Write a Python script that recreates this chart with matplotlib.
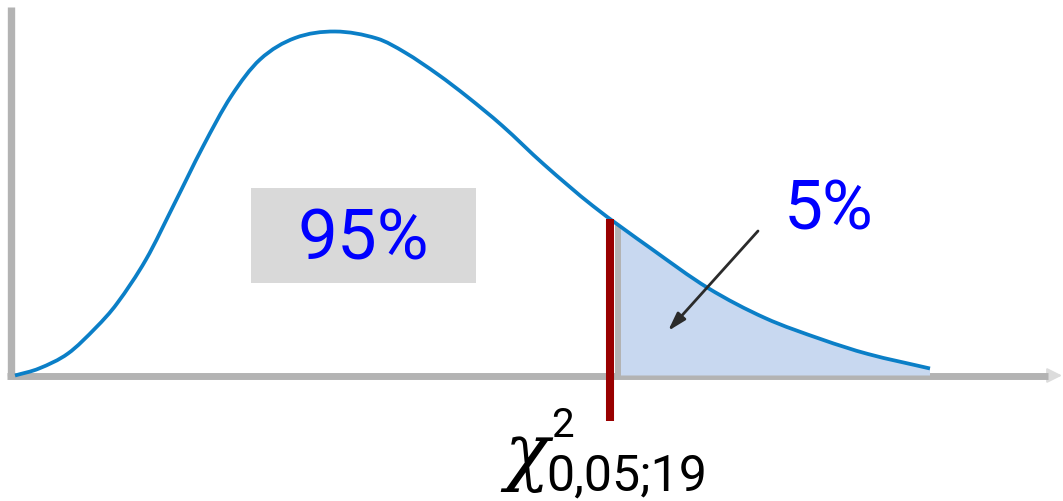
import numpy as np
import matplotlib
matplotlib.use("Agg")
import matplotlib.pyplot as plt
from matplotlib.patches import Rectangle, PathPatch
from matplotlib.path import Path
from matplotlib import transforms

# Chi-square density (19 degrees of freedom, schematic shape)
curve_x = [0, 1.2, 2.65, 4.05, 5.1, 6.55, 7.95, 9.4, 10.8, 12.25,
           14.0, 16.0, 18.1, 19.5, 21.15, 22.6, 24.35, 26.45, 28.9, 31.8,
           34.65, 37.5, 40.35, 42.65, 45.75]
curve_y = [0, 0.0014, 0.0044, 0.0096, 0.0144, 0.0232, 0.0342, 0.0458, 0.0558, 0.0632,
           0.0675, 0.0688, 0.0674, 0.0646, 0.0602, 0.0558, 0.0500, 0.0422, 0.0339, 0.0254,
           0.0175, 0.0115, 0.0072, 0.0043, 0.0014]
crit = 30.14           # upper 5% point
label_inside = "95%"
label_tail = "5%"
crit_symbol = "χ"
crit_sup = "2"
crit_sub = "0,05;19"

W, H = 1063, 502
fig = plt.figure(figsize=(W / 100, H / 100), dpi=100)
ax = fig.add_axes([0, 0, 1, 1])
ax.set_axis_off()

# pixel layout of the drawing
x0_px, base_px = 15.0, 376.5      # where the curve starts on the axis
x_per_px = 1 / 20.0
y_per_px = 1 / 5000.0
ax.set_xlim(-x0_px * x_per_px, (W - x0_px) * x_per_px)
ax.set_ylim(-(H - base_px) * y_per_px, base_px * y_per_px)


def P(xp, yp):
    """pixel position -> data coordinates"""
    return (xp - x0_px) * x_per_px, (base_px - yp) * y_per_px


grey = "#b3b3b3"

# axes drawn as plain grey strokes
xl, ytop = P(11, 8)
ax.plot([xl, xl], [0, ytop], color=grey, lw=5.3, solid_capstyle="butt", zorder=2)
xa, _ = P(7, 0)
xb, _ = P(1048, 0)
ax.plot([xa, xb], [0, 0], color=grey, lw=5.0, solid_capstyle="butt", zorder=2)
xh, _ = P(1062, 0)
ax.annotate("", xy=(xh, 0), xytext=(xb - 0.4, 0),
            arrowprops=dict(arrowstyle="-|>,head_length=0.9,head_width=0.45",
                            color="#dcdcdc", lw=1.5, shrinkA=0, shrinkB=0),
            zorder=1)

# smooth cubic Bezier segments through the density points
cx = np.asarray(curve_x, dtype=float)
cy = np.asarray(curve_y, dtype=float)
n = len(cx)
slope = np.empty(n)
slope[0] = (cy[1] - cy[0]) / (cx[1] - cx[0])
slope[-1] = (cy[-1] - cy[-2]) / (cx[-1] - cx[-2])
slope[1:-1] = (cy[2:] - cy[:-2]) / (cx[2:] - cx[:-2])


def segment(i):
    dx = cx[i + 1] - cx[i]
    return np.array([[cx[i], cy[i]],
                     [cx[i] + dx / 3, cy[i] + slope[i] * dx / 3],
                     [cx[i + 1] - dx / 3, cy[i + 1] - slope[i + 1] * dx / 3],
                     [cx[i + 1], cy[i + 1]]])


def split(x):
    """de Casteljau split of the segment holding x; returns its index and pieces"""
    i = int(np.searchsorted(cx, x)) - 1
    s = segment(i)
    t = (x - cx[i]) / (cx[i + 1] - cx[i])
    a = s[:-1] + t * (s[1:] - s[:-1])
    b = a[:-1] + t * (a[1:] - a[:-1])
    c = b[0] + t * (b[1] - b[0])
    return i, s, a, b, c


verts = [(cx[0], cy[0])]
codes = [Path.MOVETO]
for i in range(n - 1):
    s = segment(i)
    verts += [tuple(s[1]), tuple(s[2]), tuple(s[3])]
    codes += [Path.CURVE4] * 3
curve_path = Path(verts, codes)

# shaded upper tail
k, s, a, b, c = split(crit)
tail_verts = [(crit, 0.0), tuple(c), tuple(b[1]), tuple(a[2]), tuple(s[3])]
tail_codes = [Path.MOVETO, Path.LINETO, Path.CURVE4, Path.CURVE4, Path.CURVE4]
for i in range(k + 1, n - 1):
    sg = segment(i)
    tail_verts += [tuple(sg[1]), tuple(sg[2]), tuple(sg[3])]
    tail_codes += [Path.CURVE4] * 3
tail_verts += [(cx[-1], 0.0), (crit, 0.0)]
tail_codes += [Path.LINETO, Path.CLOSEPOLY]
ax.add_patch(PathPatch(Path(tail_verts, tail_codes), facecolor="#c8d8f0",
                       edgecolor="none", zorder=3))
y_crit = c[1]
ax.plot([crit, crit], [0, y_crit], color=grey, lw=4.3,
        solid_capstyle="butt", zorder=3)

ax.add_patch(PathPatch(curve_path, facecolor="none", edgecolor="#0b7fc7",
                       lw=2.7, zorder=5, capstyle="butt"))

# critical value marker, set just left of the tail edge, up to the curve
offset_px = 8
y_mark = split(crit - offset_px * x_per_px)[4][1]
shift = transforms.offset_copy(ax.transData, fig=fig, x=-offset_px, y=0,
                               units="dots")
_, y_low = P(0, 422)
ax.plot([crit, crit], [y_low, y_mark], color="#990000", lw=5.8,
        solid_capstyle="butt", transform=shift, zorder=6, clip_on=False)

# "95%" in a grey box
bx0, by0 = P(251, 284)
bx1, by1 = P(476, 189)
ax.add_patch(Rectangle((bx0, by0), bx1 - bx0, by1 - by0, facecolor="#d9d9d9",
                       edgecolor="none", zorder=4))
tx, ty = P(363.5, 240)
ax.text(tx, ty, label_inside, color="#0000ff", fontsize=51, family="Roboto",
        ha="center", va="center", zorder=6)

# "5%" and its arrow into the tail
tx, ty = P(829, 210)
ax.text(tx, ty, label_tail, color="#0000ff", fontsize=50, family="Roboto",
        ha="center", va="center", zorder=6)
ax.annotate("", xy=P(668, 332), xytext=P(758, 232),
            arrowprops=dict(arrowstyle="-|>,head_length=1.1,head_width=0.33",
                            color="#2b2b2b", lw=2.0, shrinkA=0, shrinkB=0),
            zorder=7)

# critical value label
lx, ly = P(527, 476)
ax.text(lx, ly, crit_symbol, fontsize=53, family="DejaVu Serif", style="italic",
        color="black", ha="center", va="baseline", zorder=6)
sx, sy = P(562, 437)
ax.text(sx, sy, crit_sup, fontsize=29, family="Roboto", color="black",
        ha="center", va="baseline", zorder=6)
ux, uy = P(546, 490)
ax.text(ux, uy, crit_sub, fontsize=36, family="Roboto", color="black",
        ha="left", va="baseline", zorder=6)

fig.savefig("out.png", dpi=100, facecolor="white")
